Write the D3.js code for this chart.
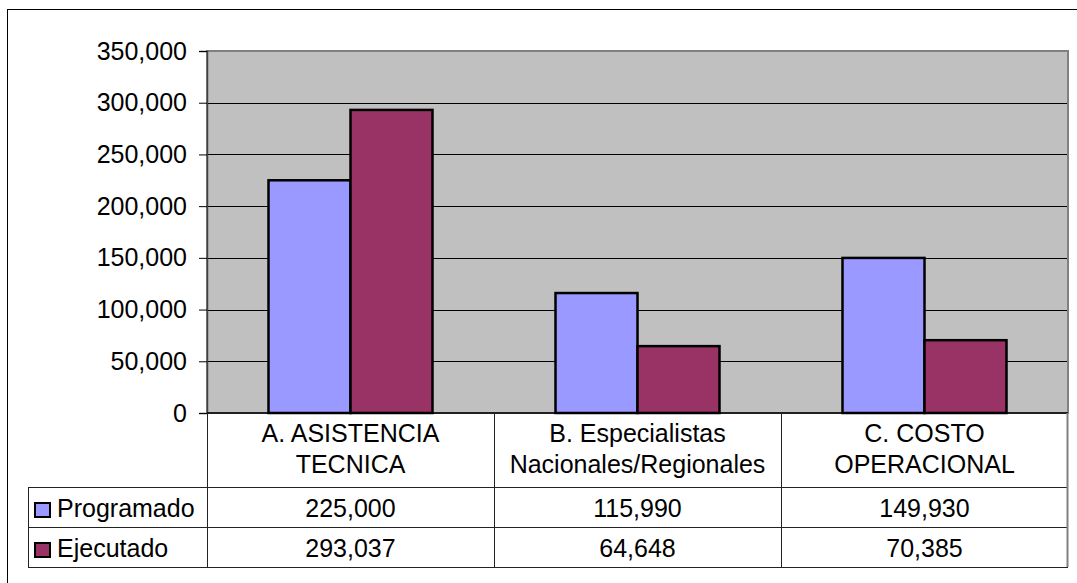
<!DOCTYPE html>
<html>
<head>
    <script src="https://d3js.org/d3.v7.min.js"></script>
    <style>
        body { margin: 0; background: #fff; }
        text { font-family: "Liberation Sans", Arial, sans-serif; fill: #000; }
    </style>
</head>
<body>
    <svg width="1077" height="583"></svg>
    <script>
        var categories = ["A. ASISTENCIA|TECNICA", "B. Especialistas|Nacionales/Regionales", "C. COSTO|OPERACIONAL"];
        var seriesNames = ["Programado", "Ejecutado"];
        var programado = [225000, 115990, 149930];
        var ejecutado = [293037, 64648, 70385];
        var yTicks = [0, 50000, 100000, 150000, 200000, 250000, 300000, 350000];
        var colors = ["#9999FF", "#993366"];

        var svg = d3.select("svg"),
            plotLeft = 207, plotRight = 1068, plotTop = 51, plotBottom = 413,
            legendLeft = 28, row1 = 487, row2 = 527, row3 = 567,
            fontSize = 25;

        var values = [programado, ejecutado];
        var fmt = d3.format(",");

        var x = d3.scaleBand().domain(categories).range([plotLeft, plotRight]);
        var xs = d3.scaleBand().domain(seriesNames).range([0, x.bandwidth()]).paddingInner(0).paddingOuter(0.75);
        var y = d3.scaleLinear().domain([0, 350000]).range([plotBottom, plotTop]);

        // outer frame
        svg.append("rect")
            .attr("x", 7.5).attr("y", 9.5).attr("width", 1200).attr("height", 700)
            .attr("fill", "none").attr("stroke", "#000").attr("stroke-width", 1);

        // plot area
        svg.append("rect")
            .attr("x", plotLeft).attr("y", plotTop).attr("width", plotRight - plotLeft).attr("height", plotBottom - plotTop)
            .attr("fill", "#C0C0C0").attr("stroke", "#808080").attr("stroke-width", 2);

        svg.selectAll(".grid").data(yTicks.filter(function(d) { return d > 0 && d < 350000; }))
            .enter().append("line")
            .attr("x1", plotLeft).attr("x2", plotRight - 1)
            .attr("y1", function(d) { return Math.round(y(d)) + 0.5; })
            .attr("y2", function(d) { return Math.round(y(d)) + 0.5; })
            .attr("stroke", "#000").attr("stroke-width", 1);

        // bars
        seriesNames.forEach(function(s, si) {
            svg.selectAll(".bar" + si).data(values[si])
                .enter().append("rect")
                .attr("x", function(d, i) { return x(categories[i]) + xs(s); })
                .attr("y", function(d) { return y(d); })
                .attr("width", xs.bandwidth())
                .attr("height", function(d) { return plotBottom - y(d); })
                .attr("fill", colors[si])
                .attr("stroke", "#000").attr("stroke-width", 2.5);
        });

        // y axis
        var yAxis = d3.axisLeft(y).tickValues(yTicks).tickFormat(fmt).tickSize(8).tickPadding(12);
        var ga = svg.append("g").attr("transform", "translate(" + plotLeft + ",0)").call(yAxis);
        ga.select(".domain").attr("stroke", "#404040").attr("stroke-width", 1.5);
        ga.selectAll(".tick line").attr("stroke", "#000");
        ga.selectAll(".tick text").style("font-size", fontSize + "px").style("font-family", "Liberation Sans, Arial, sans-serif");

        svg.append("line").attr("x1", plotLeft).attr("x2", plotRight).attr("y1", plotBottom).attr("y2", plotBottom)
            .attr("stroke", "#000").attr("stroke-width", 1.5);

        // data table
        var tbl = svg.append("g").attr("stroke", "#222").attr("stroke-width", 1);
        [row1, row2, row3].forEach(function(ry) {
            tbl.append("line").attr("x1", legendLeft).attr("x2", plotRight).attr("y1", ry + 0.5).attr("y2", ry + 0.5);
        });
        tbl.append("line").attr("x1", legendLeft + 0.5).attr("x2", legendLeft + 0.5).attr("y1", row1).attr("y2", row3);
        categories.forEach(function(c) {
            tbl.append("line").attr("x1", x(c) + 0.5).attr("x2", x(c) + 0.5).attr("y1", plotBottom).attr("y2", row3);
        });
        tbl.append("line").attr("x1", plotRight - 0.5).attr("x2", plotRight - 0.5).attr("y1", plotBottom).attr("y2", row3)
            .attr("stroke", "#808080").attr("stroke-width", 2);

        categories.forEach(function(c) {
            var t = svg.append("text").attr("text-anchor", "middle").style("font-size", fontSize + "px");
            c.split("|").forEach(function(line, li) {
                t.append("tspan").attr("x", x(c) + x.bandwidth() / 2).attr("y", 442 + li * 31).text(line);
            });
        });

        var rowBase = [517, 557];
        seriesNames.forEach(function(s, si) {
            svg.append("rect")
                .attr("x", 35).attr("y", rowBase[si] - 14).attr("width", 15).attr("height", 14)
                .attr("fill", colors[si]).attr("stroke", "#000").attr("stroke-width", 2);
            svg.append("text").attr("x", 57).attr("y", rowBase[si])
                .style("font-size", fontSize + "px").text(s);
            svg.selectAll(".val" + si).data(values[si])
                .enter().append("text")
                .attr("text-anchor", "middle")
                .attr("x", function(d, i) { return x(categories[i]) + x.bandwidth() / 2; })
                .attr("y", rowBase[si])
                .style("font-size", fontSize + "px")
                .text(function(d) { return fmt(d); });
        });
    </script>
</body>
</html>
